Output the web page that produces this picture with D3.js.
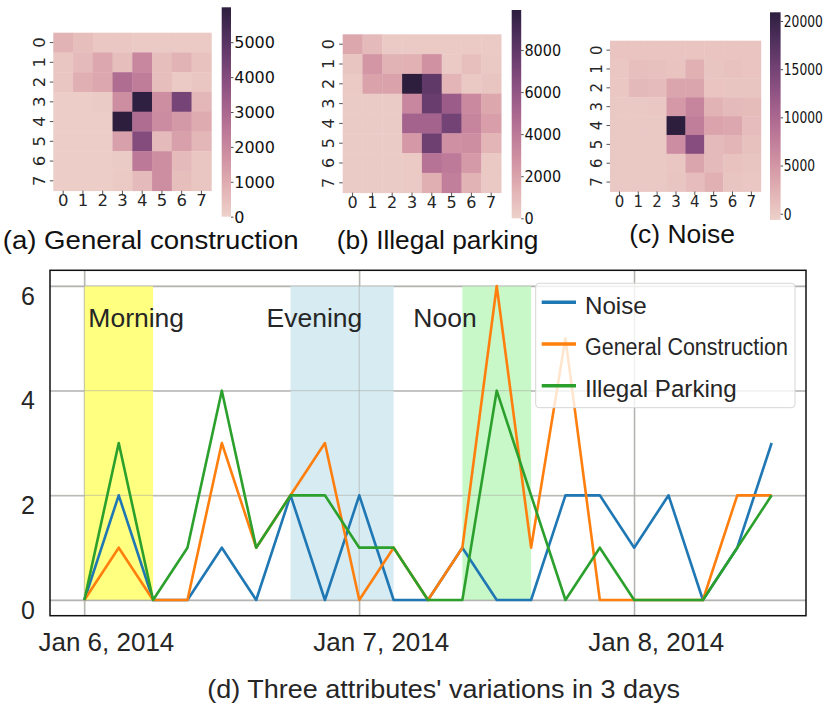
<!DOCTYPE html>
<html><head><meta charset="utf-8">
<script src="https://cdn.jsdelivr.net/npm/d3@7/dist/d3.min.js"></script>
<style>body{margin:0;background:#fff}</style>
</head><body>
<svg id="chart" width="830" height="715"></svg>
<script>
// ---------------- DATA ----------------
const gridRows = ["0","1","2","3","4","5","6","7"];
const gridCols = ["0","1","2","3","4","5","6","7"];

const constructionGrid = [
  [800, 500, 250, 250, 200, 200, 200, 200],
  [300, 600, 1100, 500, 2000, 500, 800, 400],
  [300, 900, 1100, 2800, 2300, 500, 200, 300],
  [100, 100, 150, 1800, 5950, 1800, 4300, 700],
  [100, 100, 100, 6000, 2800, 1900, 1500, 1000],
  [100, 100, 100, 1300, 4000, 600, 1300, 700],
  [100, 100, 100, 150, 2400, 1800, 600, 300],
  [100, 100, 100, 200, 600, 1800, 500, 300]
];
const parkingGrid = [
  [1800, 1000, 300, 300, 300, 300, 300, 300],
  [500, 2600, 1300, 1400, 2800, 300, 800, 400],
  [300, 2000, 2000, 9900, 7900, 1200, 400, 500],
  [250, 250, 250, 3300, 7600, 5600, 3200, 1800],
  [250, 250, 250, 5200, 5200, 7200, 3400, 2200],
  [250, 250, 250, 2500, 7400, 2900, 3000, 1200],
  [250, 250, 250, 300, 4300, 3900, 2400, 400],
  [250, 250, 250, 300, 1500, 3700, 1300, 400]
];
const noiseGrid = [
  [600, 600, 600, 600, 600, 600, 600, 600],
  [300, 1000, 900, 700, 2500, 500, 800, 600],
  [300, 1600, 1400, 3500, 3500, 600, 500, 500],
  [200, 200, 300, 4800, 6800, 2200, 1500, 1300],
  [200, 200, 200, 20900, 7500, 3600, 3300, 1200],
  [200, 200, 200, 6000, 13500, 1500, 2000, 900],
  [200, 200, 200, 400, 3500, 1500, 800, 500],
  [200, 200, 200, 500, 1200, 2500, 500, 300]
];
const constructionScaleRange = [0, 6000];
const parkingScaleRange = [0, 9900];
const noiseScaleRange = [-650, 20900];
const constructionTicks = [0, 1000, 2000, 3000, 4000, 5000];
const parkingTicks = [0, 2000, 4000, 6000, 8000];
const noiseTicks = [0, 5000, 10000, 15000, 20000];
const panelCaptions = ["(a) General construction", "(b) Illegal parking", "(c) Noise"];

const timeStamps = [
  "2014-01-06T00:00","2014-01-06T03:00","2014-01-06T06:00","2014-01-06T09:00",
  "2014-01-06T12:00","2014-01-06T15:00","2014-01-06T18:00","2014-01-06T21:00",
  "2014-01-07T00:00","2014-01-07T03:00","2014-01-07T06:00","2014-01-07T09:00",
  "2014-01-07T12:00","2014-01-07T15:00","2014-01-07T18:00","2014-01-07T21:00",
  "2014-01-08T00:00","2014-01-08T03:00","2014-01-08T06:00","2014-01-08T09:00",
  "2014-01-08T12:00"
];
const noiseSeries        = [0,2,0,0,1,0,2,0,2,0,0,1,0,0,2,2,1,2,0,1,3];
const constructionSeries = [0,1,0,0,3,1,2,3,0,1,0,1,6,1,5,0,0,0,0,2,2];
const parkingSeries      = [0,3,0,1,4,1,2,2,1,1,0,0,4,2,0,1,0,0,0,1,2];
const seriesNames = ["Noise", "General Construction", "Illegal Parking"];
const yTicks = [0, 2, 4, 6];
const dateTicks = ["2014-01-06T00:00", "2014-01-07T00:00", "2014-01-08T00:00"];
const periodNames  = ["Morning", "Evening", "Noon"];
const periodStarts = ["2014-01-06T00:00", "2014-01-06T18:00", "2014-01-07T09:00"];
const periodEnds   = ["2014-01-06T06:00", "2014-01-07T03:00", "2014-01-07T15:00"];
const bottomCaption = "(d) Three attributes' variations in 3 days";

// ---------------- STYLE / LAYOUT ----------------
const FONT_SANS = "'Liberation Sans', Arial, Helvetica, sans-serif";
const FONT_DV = "'DejaVu Sans', Verdana, sans-serif";
const TEXT = "#262626";
const seriesColors = ["#1f77b4", "#ff7f0e", "#2ca02c"];
const periodColors = ["#ffff80", "#d6ebf2", "#c8f7c8"];
const periodLabelDx = [4, -24, -49];

const heatLayout = [
  {x0: 53.3, y0: 32.7, cell: 19.75, cbX: 221.7, cbW: 9.3, cbTop: 7.3, cbBottom: 216.7,
   tickFont: 16.5, cbFont: 16, cbSqueeze: 1.0, capX: 2.7, capW: 296, capY: 249, capFont: 25.5},
  {x0: 342.7, y0: 34.3, cell: 19.8, cbX: 511.7, cbW: 9.5, cbTop: 10, cbBottom: 218.3,
   tickFont: 16, cbFont: 15.5, cbSqueeze: 0.93, capX: 336.7, capW: 201.7, capY: 249, capFont: 25},
  {x0: 610, y0: 40.7, cell: 18.85, cbX: 770, cbW: 10.6, cbTop: 12.3, cbBottom: 220,
   tickFont: 15, cbFont: 15, cbSqueeze: 0.82, capX: 629.3, capW: 105.7, capY: 243, capFont: 25.5}
];

const svg = d3.select("#chart");
svg.append("rect").attr("width", 830).attr("height", 715).attr("fill", "#fff");
const parseT = d3.timeParse("%Y-%m-%dT%H:%M");

// seaborn cubehelix_palette(as_cmap=True) default colormap
function seabornCubehelix(x) {
  const start = 0, rot = 0.4, gamma = 1.0, hue = 0.8;
  const xg = Math.pow(x, gamma);
  const a = hue * xg * (1 - xg) / 2;
  const phi = 2 * Math.PI * (start / 3 + rot * x);
  const c = Math.cos(phi), s = Math.sin(phi);
  const cl = v => Math.max(0, Math.min(1, v)) * 255;
  const r = xg + a * (-0.14861 * c + 1.78277 * s);
  const g = xg + a * (-0.29227 * c - 0.90649 * s);
  const b = xg + a * (1.97294 * c);
  return d3.rgb(cl(r), cl(g), cl(b)).formatHex();
}
function makeCmap(domain) {
  const s = d3.scaleLinear().domain(domain).range([0.85, 0.15]).clamp(true);
  return v => seabornCubehelix(s(v));
}

// ---------------- HEATMAPS ----------------
const panels = [
  {grid: constructionGrid, range: constructionScaleRange, ticks: constructionTicks, caption: panelCaptions[0]},
  {grid: parkingGrid, range: parkingScaleRange, ticks: parkingTicks, caption: panelCaptions[1]},
  {grid: noiseGrid, range: noiseScaleRange, ticks: noiseTicks, caption: panelCaptions[2]}
];
const defs = svg.append("defs");

panels.forEach((p, pi) => {
  const L = heatLayout[pi];
  const g = svg.append("g");
  const xb = d3.scaleBand().domain(gridCols).range([L.x0, L.x0 + L.cell * gridCols.length]);
  const yb = d3.scaleBand().domain(gridRows).range([L.y0, L.y0 + L.cell * gridRows.length]);
  const cmap = makeCmap(p.range);

  const cells = [];
  gridRows.forEach((r, ri) => gridCols.forEach((c, ci) => cells.push({r, c, v: p.grid[ri][ci]})));
  g.selectAll("rect.cell").data(cells).join("rect")
    .attr("class", "cell")
    .attr("x", d => xb(d.c)).attr("y", d => yb(d.r))
    .attr("width", xb.bandwidth() + 0.4).attr("height", yb.bandwidth() + 0.4)
    .attr("fill", d => cmap(d.v));

  // bottom axis
  const gx = g.append("g").attr("transform", `translate(0,${L.y0 + L.cell * 8})`)
    .call(d3.axisBottom(xb).tickSize(3.5));
  gx.select(".domain").remove();
  gx.selectAll(".tick line").attr("stroke", TEXT).attr("stroke-width", 0.8);
  gx.selectAll(".tick text").attr("font-family", FONT_DV).attr("font-size", L.tickFont)
    .attr("fill", TEXT).attr("y", 15.5).attr("dy", 0);

  // left axis, rotated labels
  const gy = g.append("g").attr("transform", `translate(${L.x0},0)`)
    .call(d3.axisLeft(yb).tickSize(3.5));
  gy.select(".domain").remove();
  gy.selectAll(".tick line").attr("stroke", TEXT).attr("stroke-width", 0.8);
  gy.selectAll(".tick text").attr("font-family", FONT_DV).attr("font-size", L.tickFont)
    .attr("fill", TEXT).attr("x", 0).attr("dy", 0).attr("text-anchor", "middle")
    .attr("transform", "translate(-8.3,0) rotate(-90)");

  // colorbar
  const gid = "cbgrad" + pi;
  const grad = defs.append("linearGradient").attr("id", gid)
    .attr("x1", 0).attr("y1", 1).attr("x2", 0).attr("y2", 0);
  d3.range(0, 41).forEach(k => {
    const t = k / 40;
    grad.append("stop").attr("offset", t)
      .attr("stop-color", cmap(p.range[0] + t * (p.range[1] - p.range[0])));
  });
  g.append("rect").attr("x", L.cbX).attr("y", L.cbTop)
    .attr("width", L.cbW).attr("height", L.cbBottom - L.cbTop)
    .attr("fill", `url(#${gid})`);
  const cbScale = d3.scaleLinear().domain(p.range).range([L.cbBottom, L.cbTop]);
  const gc = g.append("g").attr("transform", `translate(${L.cbX + L.cbW},0)`)
    .call(d3.axisRight(cbScale).tickValues(p.ticks).tickSize(2.5).tickFormat(d3.format("d")));
  gc.select(".domain").remove();
  gc.selectAll(".tick line").attr("stroke", TEXT).attr("stroke-width", 0.8);
  gc.selectAll(".tick text").attr("font-family", FONT_DV).attr("font-size", L.cbFont)
    .attr("fill", "#111").attr("x", 0).attr("dy", "0.36em")
    .attr("transform", `translate(3.2,0) scale(${L.cbSqueeze},1)`);

  // caption
  svg.append("text").attr("x", L.capX).attr("y", L.capY)
    .attr("font-family", FONT_SANS).attr("font-size", L.capFont).attr("fill", "#111")
    .attr("textLength", L.capW).attr("lengthAdjust", "spacingAndGlyphs")
    .text(p.caption);
});

// ---------------- LINE CHART ----------------
const times = timeStamps.map(parseT);
const [tMin, tMax] = d3.extent(times);
const plot = {left: 50, right: 806, top: 270.3, bottom: 615.7};
const x = d3.scaleTime()
  .domain([d3.timeHour.offset(tMin, -3), d3.timeHour.offset(tMax, 3)])
  .range([plot.left, plot.right]);
const y = d3.scaleLinear().domain([-0.3, 6.3]).range([plot.bottom, plot.top]);

const lc = svg.append("g");

// gridlines (via axes)
const gyAxis = lc.append("g").attr("transform", `translate(${plot.left},0)`)
  .call(d3.axisLeft(y).tickValues(yTicks).tickSize(-(plot.right - plot.left)).tickFormat(d3.format("d")));
gyAxis.select(".domain").remove();
gyAxis.selectAll(".tick line").attr("stroke", "#b8b8b8").attr("stroke-width", 1.3);
gyAxis.selectAll(".tick text").attr("font-family", FONT_SANS).attr("font-size", 25)
  .attr("fill", TEXT).attr("x", -15).attr("y", 18).attr("dy", 0).attr("text-anchor", "end");

const gxAxis = lc.append("g").attr("transform", `translate(0,${plot.bottom})`)
  .call(d3.axisBottom(x).tickValues(dateTicks.map(parseT))
    .tickSize(-(plot.bottom - plot.top)).tickFormat(d3.timeFormat("%b %-d, %Y")));
gxAxis.select(".domain").remove();
gxAxis.selectAll(".tick line").attr("stroke", "#b8b8b8").attr("stroke-width", 1.3);
gxAxis.selectAll(".tick text").attr("font-family", FONT_SANS).attr("font-size", 26)
  .attr("fill", TEXT).attr("x", 21.5).attr("y", 35).attr("dy", 0).attr("text-anchor", "middle");

// period bands
const periods = periodNames.map((n, i) => ({name: n, s: parseT(periodStarts[i]), e: parseT(periodEnds[i]), i}));
lc.selectAll("rect.band").data(periods).join("rect")
  .attr("class", "band")
  .attr("x", d => x(d.s)).attr("width", d => x(d.e) - x(d.s))
  .attr("y", y(6)).attr("height", y(0) - y(6))
  .attr("fill", d => periodColors[d.i]);

// grid lines showing through the bands
lc.append("g").selectAll("line").data(dateTicks.map(parseT)).join("line")
  .attr("x1", d => x(d)).attr("x2", d => x(d)).attr("y1", plot.top).attr("y2", plot.bottom)
  .attr("stroke", "#a8a8a0").attr("stroke-width", 1.3).attr("opacity", 0.45);
lc.append("g").selectAll("line").data(yTicks).join("line")
  .attr("x1", plot.left).attr("x2", plot.right).attr("y1", d => y(d)).attr("y2", d => y(d))
  .attr("stroke", "#a8a8a0").attr("stroke-width", 1.3).attr("opacity", 0.45);

// period labels
lc.selectAll("text.plabel").data(periods).join("text")
  .attr("class", "plabel")
  .attr("x", d => x(d.s) + periodLabelDx[d.i]).attr("y", 326.7)
  .attr("font-family", FONT_SANS).attr("font-size", 26.5).attr("fill", TEXT)
  .text(d => d.name);

// lines
const allSeries = [noiseSeries, constructionSeries, parkingSeries];
const line = d3.line().x((d, i) => x(times[i])).y(d => y(d));
lc.selectAll("path.series").data(allSeries).join("path")
  .attr("class", "series")
  .attr("d", d => line(d))
  .attr("fill", "none")
  .attr("stroke", (d, i) => seriesColors[i])
  .attr("stroke-width", 2.6)
  .attr("stroke-linejoin", "round").attr("stroke-linecap", "butt");

// frame
lc.append("rect").attr("x", plot.left).attr("y", plot.top)
  .attr("width", plot.right - plot.left).attr("height", plot.bottom - plot.top)
  .attr("fill", "none").attr("stroke", "#111").attr("stroke-width", 1.5);

// legend
const leg = lc.append("g");
leg.append("rect").attr("x", 535.7).attr("y", 283.3).attr("width", 259.3).attr("height", 124.4)
  .attr("rx", 3.5).attr("fill", "#fff").attr("fill-opacity", 0.8)
  .attr("stroke", "#d6d6d6").attr("stroke-width", 1);
const legY = [302.3, 344, 385.7];
const legLen = [61.7, 203, 151.7];
const legFont = [24.5, 23, 24.5];
seriesNames.forEach((n, i) => {
  leg.append("line").attr("x1", 541.7).attr("x2", 576).attr("y1", legY[i]).attr("y2", legY[i])
    .attr("stroke", seriesColors[i]).attr("stroke-width", 3.6);
  leg.append("text").attr("x", 585).attr("y", legY[i] + 0.36 * legFont[i] + 2.6)
    .attr("font-family", FONT_SANS).attr("font-size", legFont[i]).attr("fill", TEXT)
    .attr("textLength", legLen[i]).attr("lengthAdjust", "spacingAndGlyphs")
    .text(n);
});

// bottom caption
svg.append("text").attr("x", 207.3).attr("y", 698)
  .attr("font-family", FONT_SANS).attr("font-size", 25.5).attr("fill", TEXT)
  .attr("textLength", 472.7).attr("lengthAdjust", "spacingAndGlyphs")
  .text(bottomCaption);
</script>
</body></html>
